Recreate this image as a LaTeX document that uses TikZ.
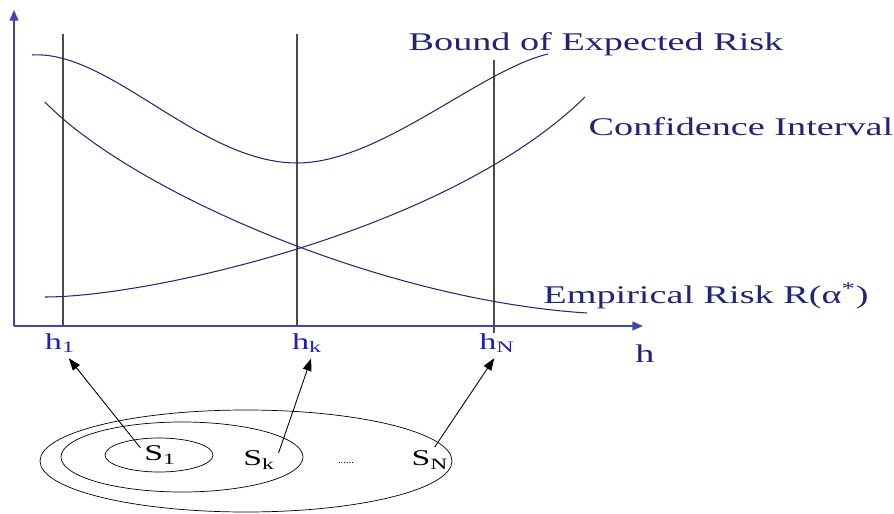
\documentclass[tikz,border=0pt]{standalone}
\usepackage{fontspec}
\setmainfont{Liberation Serif}
\newfontfamily\widefont[FakeStretch=1.5]{Liberation Serif}
\usetikzlibrary{arrows.meta}
\definecolor{curvecol}{RGB}{40,40,110}
\definecolor{axiscol}{RGB}{70,70,170}
\definecolor{textcol}{RGB}{35,35,120}
\definecolor{hcol}{RGB}{30,30,190}
\tikzset{
  axisline/.style={draw=axiscol, line width=0.8pt, -{Triangle[length=6pt,width=5pt]}},
  vline/.style={draw=black!70, line width=0.8pt},
  riskcurve/.style={draw=curvecol, line width=0.6pt},
  bigtext/.style={font=\fontsize{14.5}{17}\widefont, text=textcol, inner sep=0pt},
  hlab/.style={font=\fontsize{13}{15}\widefont, text=hcol, inner sep=3pt},
  slab/.style={font=\fontsize{12.8}{15}\widefont, inner sep=2pt},
  link/.style={draw=black, line width=0.5pt, -{Triangle[length=7pt,width=5pt]}}
}
\begin{document}
\begin{tikzpicture}[x=0.02cm, y=-0.02cm]
  \useasboundingbox (0,0) rectangle (894,514);
  % axes
  \draw[axisline] (14,326) -- (14,10);
  \draw[axisline] (14,326) -- (643,326);
  \node[bigtext] (haxis) at (645,354) {h};

  % vertical lines
  \draw[vline] (63,34) -- (63,326);
  \draw[vline] (297,34) -- (297,326);
  \draw[vline] (494,60) -- (494,333);

  % curves
  \draw[riskcurve] (32,55) .. controls (110,50) and (200,163) .. (297,163)
    .. controls (380,163) and (480,70) .. (548,54);
  \draw[riskcurve] (45,297) .. controls (150,297) and (450,230) .. (585,97);
  \draw[riskcurve] (45,102) .. controls (130,190) and (380,300) .. (587,313);
  \node[bigtext] (bound) at (596,44) {Bound of Expected Risk};
  \node[bigtext] (conf) at (741,127) {Confidence Interval};
  \node[bigtext] (emp) at (706,296) {Empirical Risk R(α\textsuperscript{*})};

  % h values
  \node[hlab] (h1) at (60,343) {h\textsubscript{1}};
  \node[hlab] (hk) at (307,343) {h\textsubscript{k}};
  \node[hlab] (hN) at (497,343) {h\textsubscript{N}};

  % nested sets
  \draw (246,461) ellipse (206 and 51);
  \draw (182,457) ellipse (121 and 35);
  \draw (159,455) ellipse (54 and 17);
  \node[slab] (s1) at (160,455) {S\textsubscript{1}};
  \node[slab] (sk) at (259,460) {S\textsubscript{k}};
  \node[slab] (sN) at (430,460) {S\textsubscript{N}};
  \node[font=\fontsize{6}{7}\selectfont, inner sep=0pt] (dots) at (346,463) {......};

  \draw[link] (s1.160) -- (h1.-60);
  \draw[link] (sk.20) -- (hk.-75);
  \draw[link] (sN.70) -- (hN.-100);
\end{tikzpicture}
\end{document}
